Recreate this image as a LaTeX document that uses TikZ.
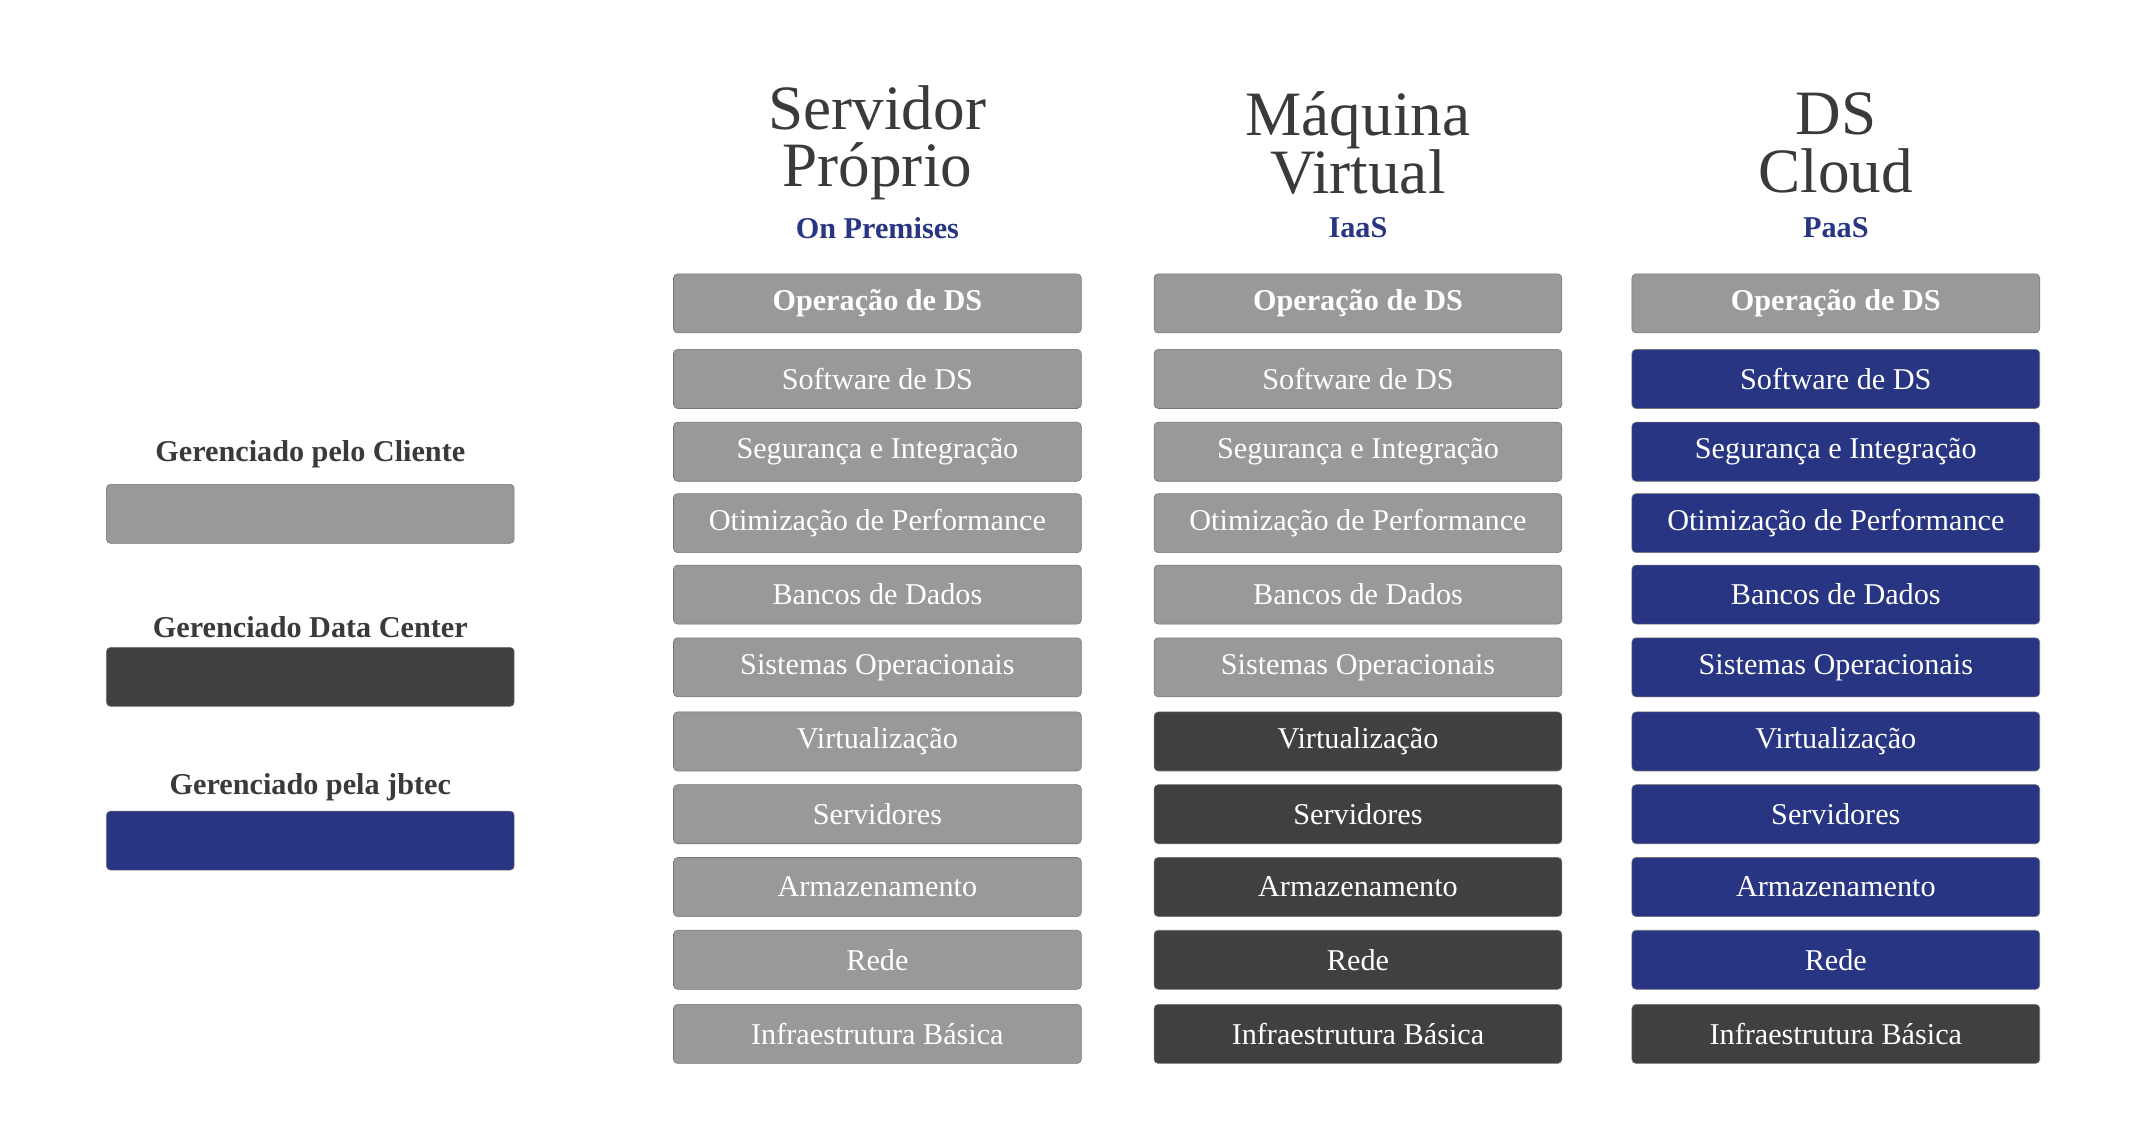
\documentclass[tikz,border=0pt]{standalone}
\usepackage{fontspec}
\setmainfont{Liberation Serif}
\usetikzlibrary{positioning}
\definecolor{cliente}{HTML}{98999B}
\definecolor{datacenter}{HTML}{3F4042}
\definecolor{jbtec}{HTML}{283583}
\definecolor{texto}{HTML}{3A3A3A}
\tikzset{
  layer/.style={draw=black!55,rounded corners=3pt,minimum width=297pt,minimum height=43pt,
    text=white,font=\fontsize{22}{24}\selectfont,inner sep=0pt},
  legendbox/.style={draw=black!55,rounded corners=3pt,minimum width=297pt,minimum height=43pt},
  legendlabel/.style={text=texto,font=\bfseries\fontsize{22}{24}\selectfont},
  title/.style={text=texto,align=center,font=\fontsize{46}{48}\selectfont},
  subtitle/.style={text=jbtec,font=\bfseries\fontsize{22}{24}\selectfont}
}
\begin{document}
\begin{tikzpicture}[x=1pt,y=-1pt]
  \useasboundingbox[fill=white] (0,0) rectangle (1560,824);

  % column titles
  \node[title] (tS) at (639,104) {Servidor\\[-6pt]Próprio};
  \node[subtitle] (sS) at (639,166) {On Premises};
  \node[title] (tM) at (989,104) {Máquina\\[-6pt]Virtual};
  \node[subtitle] (sM) at (989,166) {IaaS};
  \node[title] (tC) at (1337,104) {DS\\[-6pt]Cloud};
  \node[subtitle] (sC) at (1337,166) {PaaS};

  % layers
  \foreach \txt/\y [count=\r] in {Operação de DS/221, Software de DS/276,
      Segurança e Integração/329, Otimização de Performance/381, Bancos de Dados/433,
      Sistemas Operacionais/486, Virtualização/540, Servidores/593,
      Armazenamento/646, Rede/699, Infraestrutura Básica/753}{
    \ifnum\r=1 \def\fnt{\bfseries}\else\def\fnt{}\fi
    \ifnum\r<7 \def\mcol{cliente}\else\def\mcol{datacenter}\fi
    \ifnum\r=1 \def\ccol{cliente}\else\ifnum\r=11 \def\ccol{datacenter}\else\def\ccol{jbtec}\fi\fi
    \node[layer,fill=cliente] (s\r) at (639,\y) {\fnt\txt};
    \node[layer,fill=\mcol] (m\r) at (989,\y) {\fnt\txt};
    \node[layer,fill=\ccol] (c\r) at (1337,\y) {\fnt\txt};
  }

  % legend
  \node[legendlabel] (lCliente) at (226,331) {Gerenciado pelo Cliente};
  \node[legendbox,fill=cliente,below=8pt of lCliente] (bCliente) {};
  \node[legendlabel] (lData) at (226,457) {Gerenciado Data Center};
  \node[legendbox,fill=datacenter,below=3pt of lData] (bData) {};
  \node[legendlabel] (lJbtec) at (226,573) {Gerenciado pela jbtec};
  \node[legendbox,fill=jbtec,below=4pt of lJbtec] (bJbtec) {};
\end{tikzpicture}
\end{document}
